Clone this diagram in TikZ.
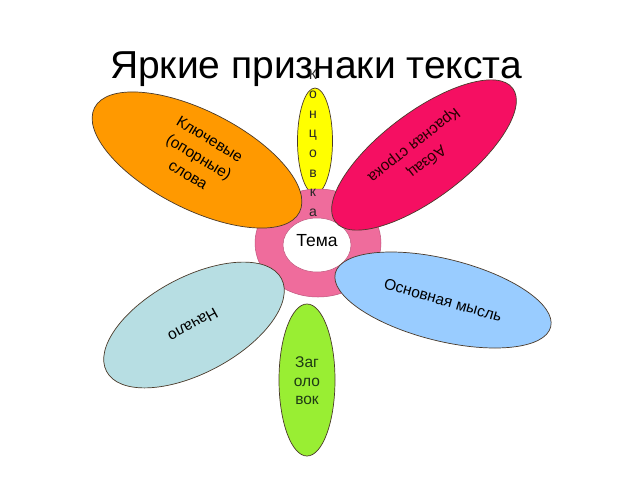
\documentclass[tikz,border=0pt]{standalone}
\usepackage{fontspec}
\setmainfont{Liberation Sans}
\usetikzlibrary{shapes.geometric}
\definecolor{petalorange}{HTML}{FF9900}
\definecolor{petalmagenta}{HTML}{F50F62}
\definecolor{ringpink}{HTML}{EF6C9C}
\definecolor{petalyellow}{HTML}{FFFF00}
\definecolor{petalblue}{HTML}{99CCFF}
\definecolor{petalcyan}{HTML}{B7DEE3}
\definecolor{petalgreen}{HTML}{99EE33}
\definecolor{edgecol}{HTML}{4A3A2A}
\definecolor{greentext}{HTML}{1E3A14}
\tikzset{
  petal/.style={ellipse, draw=edgecol, line width=0.7pt, inner sep=0pt},
  lbl/.style={align=center, inner sep=0pt, font=\fontsize{15.5}{21}\selectfont},
}
\begin{document}
\begin{tikzpicture}[x=1pt,y=-1pt]
\useasboundingbox[fill=white] (0,0) rectangle (640,480);
% title
\node[anchor=base, inner sep=0pt, font=\fontsize{39}{44}\selectfont] (title) at (316,78) {Яркие признаки текста};
% yellow petal (behind ring)
\node[petal, fill=petalyellow, minimum width=35, minimum height=106] (konc) at (315,141) {};
% ring
\node[ellipse, draw=ringpink!80!black, line width=0.5pt, fill=ringpink, minimum width=126, minimum height=108, inner sep=0pt] (ring) at (318,243) {};
\node[ellipse, draw=ringpink!80!black, line width=0.5pt, fill=white, minimum width=68, minimum height=54, inner sep=0pt] (hole) at (317,245) {};
\node[inner sep=0pt, font=\fontsize{17.5}{20}\selectfont, anchor=base] (tema) at (317,246) {Тема};
% orange petal
\node[petal, fill=petalorange, minimum width=230, minimum height=98, rotate=-27] (key) at (197,160) {};
\node[lbl, rotate=-31] (keytext) at (199,157) {Ключевые\\(опорные)\\слова};
% magenta petal
\node[petal, fill=petalmagenta, minimum width=222, minimum height=86, rotate=37] (abz) at (424,155) {};
\node[lbl, rotate=218, text=black!85!red] (abztext) at (420,153) {Абзац\\Красная строка};
% blue petal
\node[petal, fill=petalblue, minimum width=222, minimum height=82, rotate=-14] (main) at (443,300) {};
\node[lbl, rotate=-16] (maintext) at (443,300) {Основная мысль};
% cyan petal
\node[petal, fill=petalcyan, minimum width=198, minimum height=96, rotate=28] (start) at (194,325) {};
\node[lbl, rotate=209] (starttext) at (193,325) {Начало};
% green petal
\node[petal, fill=petalgreen, minimum width=56, minimum height=152] (head) at (307,380) {};
\node[align=center, inner sep=0pt, text=greentext, font=\fontsize{15.5}{18.5}\selectfont] (headtext) at (307,381) {Заг\\оло\\вок};
% konc text
\node[align=center, inner sep=0pt, font=\fontsize{14}{19.6}\selectfont, text=black!85] (konctext) at (313,143) {К\\о\\н\\ц\\о\\в\\к\\а};
\end{tikzpicture}
\end{document}
